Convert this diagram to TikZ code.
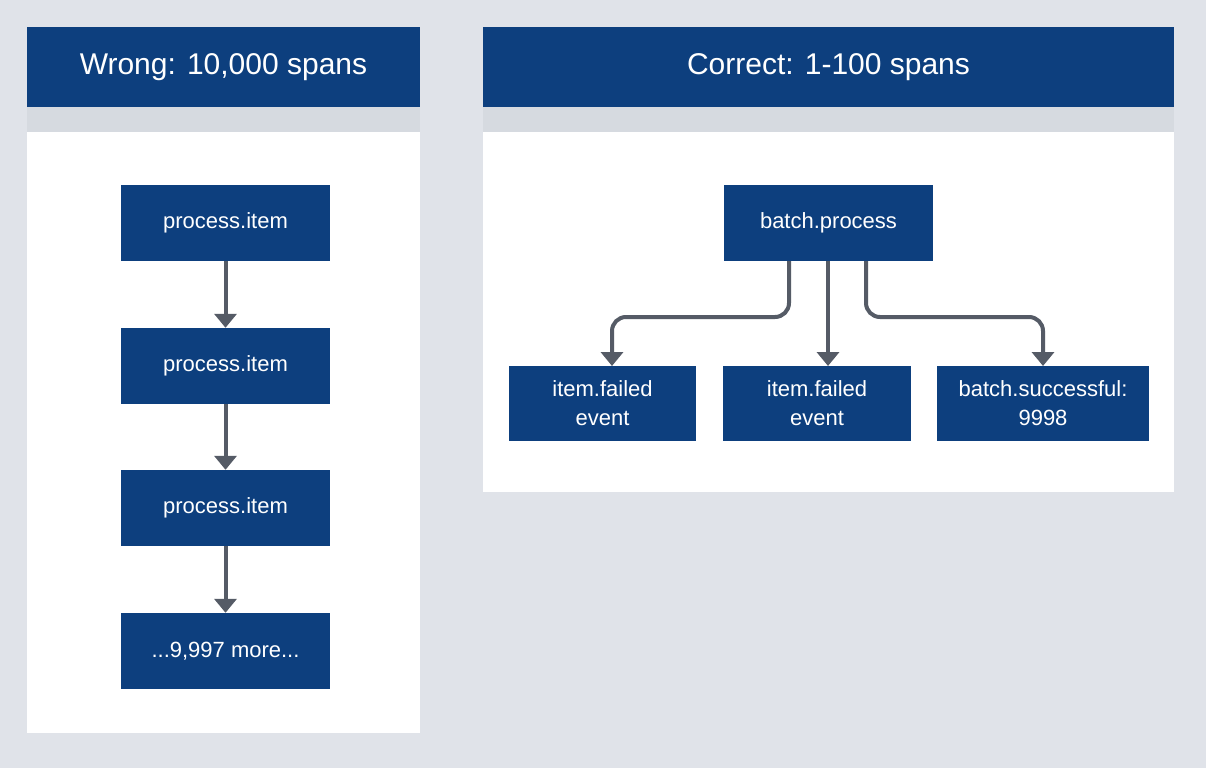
\documentclass[tikz,border=0pt]{standalone}
\usepackage{fontspec}
\setmainfont{Liberation Sans}
\usetikzlibrary{arrows.meta}
\definecolor{bg}{HTML}{E0E3E9}
\definecolor{band}{HTML}{D6DAE0}
\definecolor{navy}{HTML}{0D3F7E}
\definecolor{arr}{HTML}{555B66}
\begin{document}
\begin{tikzpicture}[x=1pt,y=-1pt,
  hdr/.style={fill=navy,draw=none,text=white,font=\fontsize{30}{34}\selectfont},
  box/.style={fill=navy,draw=none,text=white,font=\fontsize{22}{29}\selectfont,align=center,inner sep=0pt},
  ar/.style={draw=arr,line width=4pt,-{Triangle[length=14pt,width=22pt]},rounded corners=14pt}]
\useasboundingbox (0,0) rectangle (1206,768);
\fill[bg] (0,0) rectangle (1206,768);
\fill[band] (27,107) rectangle (420,132);
\fill[band] (483,107) rectangle (1174,132);
\fill[white] (27,132) rectangle (420,733);
\fill[white] (483,132) rectangle (1174,492);
\node[hdr,minimum width=393pt,minimum height=80pt] (h1) at (223.5,67) {Wrong: 10,000 spans};
\node[hdr,minimum width=691pt,minimum height=80pt] (h2) at (828.5,67) {Correct: 1-100 spans};
\node[box,minimum width=209pt,minimum height=76pt] (a) at (225.5,223) {process.item};
\node[box,minimum width=209pt,minimum height=76pt] (b) at (225.5,366) {process.item};
\node[box,minimum width=209pt,minimum height=76pt] (c) at (225.5,508) {process.item};
\node[box,minimum width=209pt,minimum height=76pt] (d) at (225.5,651) {...9,997 more...};
\draw[ar] (a) -- (b);
\draw[ar] (b) -- (c);
\draw[ar] (c) -- (d);
\node[box,minimum width=209pt,minimum height=76pt] (p) at (828.5,223) {batch.process};
\node[box,minimum width=187pt,minimum height=75pt] (e1) at (602.5,403.5) {item.failed\\event};
\node[box,minimum width=188pt,minimum height=75pt] (e2) at (817,403.5) {item.failed\\event};
\node[box,minimum width=212pt,minimum height=75pt] (e3) at (1043,403.5) {batch.successful:\\9998};
\coordinate (p1) at (789,261);
\coordinate (p3) at (866,261);
\draw[ar] (p1) -- (789,317) -- (612,317) -- (612,366);
\draw[ar] (828,261) -- (828,366);
\draw[ar] (p3) -- (866,317) -- (1043,317) -- (1043,366);
\end{tikzpicture}
\end{document}
